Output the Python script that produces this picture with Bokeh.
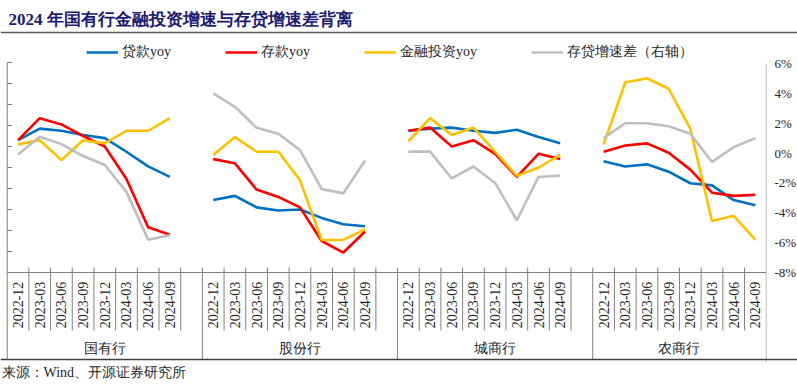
import math
from bokeh.plotting import figure
from bokeh.models import Range1d, Legend, LegendItem, Span
from bokeh.core.properties import value
from bokeh.embed import file_html
from bokeh.resources import INLINE

# ---------------- data ----------------
title_text = "2024 年国有行金融投资增速与存贷增速差背离"
source_text = "来源：Wind、开源证券研究所"
groups = ["国有行", "股份行", "城商行", "农商行"]
quarters = ["2022-12", "2023-03", "2023-06", "2023-09", "2023-12", "2024-03", "2024-06", "2024-09"]
series_names = ["贷款yoy", "存款yoy", "金融投资yoy", "存贷增速差（右轴）"]

# 贷款yoy (left axis, %)
loan_guoyou = [12.6, 13.7, 13.5, 13.1, 12.8, 11.5, 10.1, 9.1]
loan_gufen = [6.9, 7.3, 6.2, 5.9, 6.0, 5.2, 4.6, 4.4]
loan_chengshang = [13.5, 13.7, 13.8, 13.5, 13.3, 13.6, 12.9, 12.3]
loan_nongshang = [10.6, 10.1, 10.3, 9.6, 8.5, 8.3, 6.9, 6.4]

# 存款yoy (left axis, %)
dep_guoyou = [12.6, 14.7, 14.1, 13.0, 12.0, 8.9, 4.3, 3.6]
dep_gufen = [10.8, 10.4, 7.9, 7.2, 6.2, 3.0, 1.9, 3.9]
dep_chengshang = [13.5, 13.8, 12.0, 12.6, 11.3, 9.1, 11.3, 10.8]
dep_nongshang = [11.5, 12.1, 12.3, 11.4, 9.8, 7.6, 7.3, 7.4]

# 金融投资yoy (left axis, %)
inv_guoyou = [12.2, 12.6, 10.7, 12.6, 12.3, 13.5, 13.5, 14.7]
inv_gufen = [11.2, 12.9, 11.5, 11.5, 8.8, 3.1, 3.1, 4.1]
inv_chengshang = [12.5, 14.7, 13.1, 13.8, 11.5, 9.2, 10.0, 11.2]
inv_nongshang = [12.2, 18.1, 18.5, 17.5, 13.7, 4.9, 5.4, 3.1]

# 存贷增速差 (right axis, %)
gap_guoyou = [-0.1, 1.1, 0.6, -0.2, -0.8, -2.6, -5.8, -5.5]
gap_gufen = [4.0, 3.1, 1.7, 1.3, 0.2, -2.4, -2.7, -0.5]
gap_chengshang = [0.1, 0.1, -1.7, -0.9, -2.0, -4.5, -1.6, -1.5]
gap_nongshang = [1.0, 2.0, 2.0, 1.8, 1.3, -0.6, 0.4, 1.0]

left_ticks = [0, 2, 4, 6, 8, 10, 12, 14, 16, 18, 20]
right_ticks = [6, 4, 2, 0, -2, -4, -6, -8]
right_tick_labels = ["6%", "4%", "2%", "0%", "-2%", "-4%", "-6%", "-8%"]

# ---------------- layout helpers (page pixel -> data) ----------------
W, H = 797, 386
OX, OY = 0, 0            # page offset of the figure
X0, SLOT = 6.7, 21.686   # page x of category axis start, slot width
Y0_L, PX_L = 272.0, 10.5  # page y of left 0, px per unit
Y6_R, PX_R = 63.0, 209.0 / 14  # page y of right 6%, px per unit


def sx(px):
    return (px - X0) / SLOT


def vy(py):
    return (Y0_L - py) / PX_L


def ry(py):
    return 6 - (py - Y6_R) / PX_R


SLOTS_PER_GROUP = 9
N_SLOTS = 35

p = figure(width=W, height=H, output_backend="svg", toolbar_location=None,
           x_axis_type=None, y_axis_type=None,
           x_range=Range1d(sx(OX), sx(OX + W)),
           y_range=Range1d(vy(OY + H), vy(OY)),
           min_border=0, min_border_left=0, min_border_right=0,
           min_border_top=0, min_border_bottom=0)
p.extra_y_ranges = {"right": Range1d(ry(OY + H), ry(OY))}
p.outline_line_color = None
p.grid.visible = False
p.background_fill_color = "white"
p.border_fill_color = "white"

SERIF = value("Liberation Serif")


def build(series_by_group):
    xs, ys = [], []
    for g, vals in enumerate(series_by_group):
        for i, v in enumerate(vals):
            xs.append(g * SLOTS_PER_GROUP + i + 0.5)
            ys.append(v)
        xs.append(float("nan"))
        ys.append(float("nan"))
    return xs, ys


loan_x, loan_y = build([loan_guoyou, loan_gufen, loan_chengshang, loan_nongshang])
dep_x, dep_y = build([dep_guoyou, dep_gufen, dep_chengshang, dep_nongshang])
inv_x, inv_y = build([inv_guoyou, inv_gufen, inv_chengshang, inv_nongshang])
gap_x, gap_y = build([gap_guoyou, gap_gufen, gap_chengshang, gap_nongshang])

LW = 2.6
r_loan = p.line(loan_x, loan_y, line_color="#0070C0", line_width=LW)
r_dep = p.line(dep_x, dep_y, line_color="#FF0000", line_width=LW)
r_inv = p.line(inv_x, inv_y, line_color="#FFC000", line_width=LW)
r_gap = p.line(gap_x, gap_y, line_color="#BFBFBF", line_width=LW, y_range_name="right")

# ---------------- axes drawn as table-like frame ----------------
AX = "#808080"
# left axis line and inward ticks
p.segment(x0=[0], y0=[vy(62)], x1=[0], y1=[vy(359)], line_color=AX, line_width=1)
p.segment(x0=[0] * len(left_ticks), y0=left_ticks, x1=[5 / SLOT] * len(left_ticks), y1=left_ticks,
          line_color=AX, line_width=1)
# right axis line
p.segment(x0=[N_SLOTS], y0=[vy(63)], x1=[N_SLOTS], y1=[vy(362)], line_color="#BFBFBF", line_width=1)
# category axis line
p.segment(x0=[0], y0=[0], x1=[N_SLOTS], y1=[0], line_color=AX, line_width=1)
# category boundary ticks and group separators
bounds = list(range(1, N_SLOTS))
tick_b = [b for b in bounds if b % SLOTS_PER_GROUP != 0]
sep_b = [b for b in bounds if b % SLOTS_PER_GROUP == 0]
p.segment(x0=tick_b, y0=[vy(267)] * len(tick_b), x1=tick_b, y1=[vy(330)] * len(tick_b),
          line_color=AX, line_width=1)
p.segment(x0=sep_b, y0=[vy(267)] * len(sep_b), x1=sep_b, y1=[vy(359)] * len(sep_b),
          line_color=AX, line_width=1)

# category tick labels (rotated)
lab_x, lab_t = [], []
for g in range(len(groups)):
    for i, q in enumerate(quarters):
        lab_x.append(g * SLOTS_PER_GROUP + i + 0.5)
        lab_t.append(q)
p.text(x=lab_x, y=[vy(304.5)] * len(lab_x), text=lab_t, angle=math.pi / 2,
       text_align="center", text_baseline="middle", text_font=SERIF,
       text_font_size="14px", text_color="#262626")

# group labels
grp_x = []
for g in range(len(groups)):
    start = g * SLOTS_PER_GROUP
    end = min(start + SLOTS_PER_GROUP, N_SLOTS)
    grp_x.append((start + end) / 2)
p.text(x=grp_x, y=[vy(348)] * len(groups), text=groups, text_align="center",
       text_baseline="middle", text_font=SERIF, text_font_size="14px", text_color="#262626")

# right axis labels
p.text(x=[sx(774)] * len(right_ticks), y=right_ticks, text=right_tick_labels,
       y_range_name="right", text_align="left", text_baseline="middle",
       text_font=SERIF, text_font_size="13px", text_color="#262626")

# title + rules
p.text(x=[sx(8)], y=[vy(18.5)], text=[title_text], text_align="left", text_baseline="middle",
       text_font=SERIF, text_font_style="bold", text_font_size="17px", text_color="#1B1B6F")
p.add_layout(Span(location=vy(32), dimension="width", line_color="#595959", line_width=1.5))
p.add_layout(Span(location=vy(359), dimension="width", line_color="#404040", line_width=1.5))

# source
p.text(x=[sx(1)], y=[vy(372)], text=[source_text], text_align="left", text_baseline="middle",
       text_font=SERIF, text_font_size="14px", text_color="#262626")

# legend
legend = Legend(items=[LegendItem(label=series_names[0], renderers=[r_loan]),
                       LegendItem(label=series_names[1], renderers=[r_dep]),
                       LegendItem(label=series_names[2], renderers=[r_inv]),
                       LegendItem(label=series_names[3], renderers=[r_gap])],
                orientation="horizontal", location=(86 - OX, H - (52 - OY) - 10),
                glyph_width=32, glyph_height=20, label_standoff=4, spacing=54,
                padding=0, margin=0, border_line_color=None, background_fill_alpha=0,
                label_text_font="Liberation Serif", label_text_font_size="14px",
                label_text_color="#262626", label_height=20)
p.add_layout(legend)

open("out.html", "w").write(file_html(p, INLINE))
